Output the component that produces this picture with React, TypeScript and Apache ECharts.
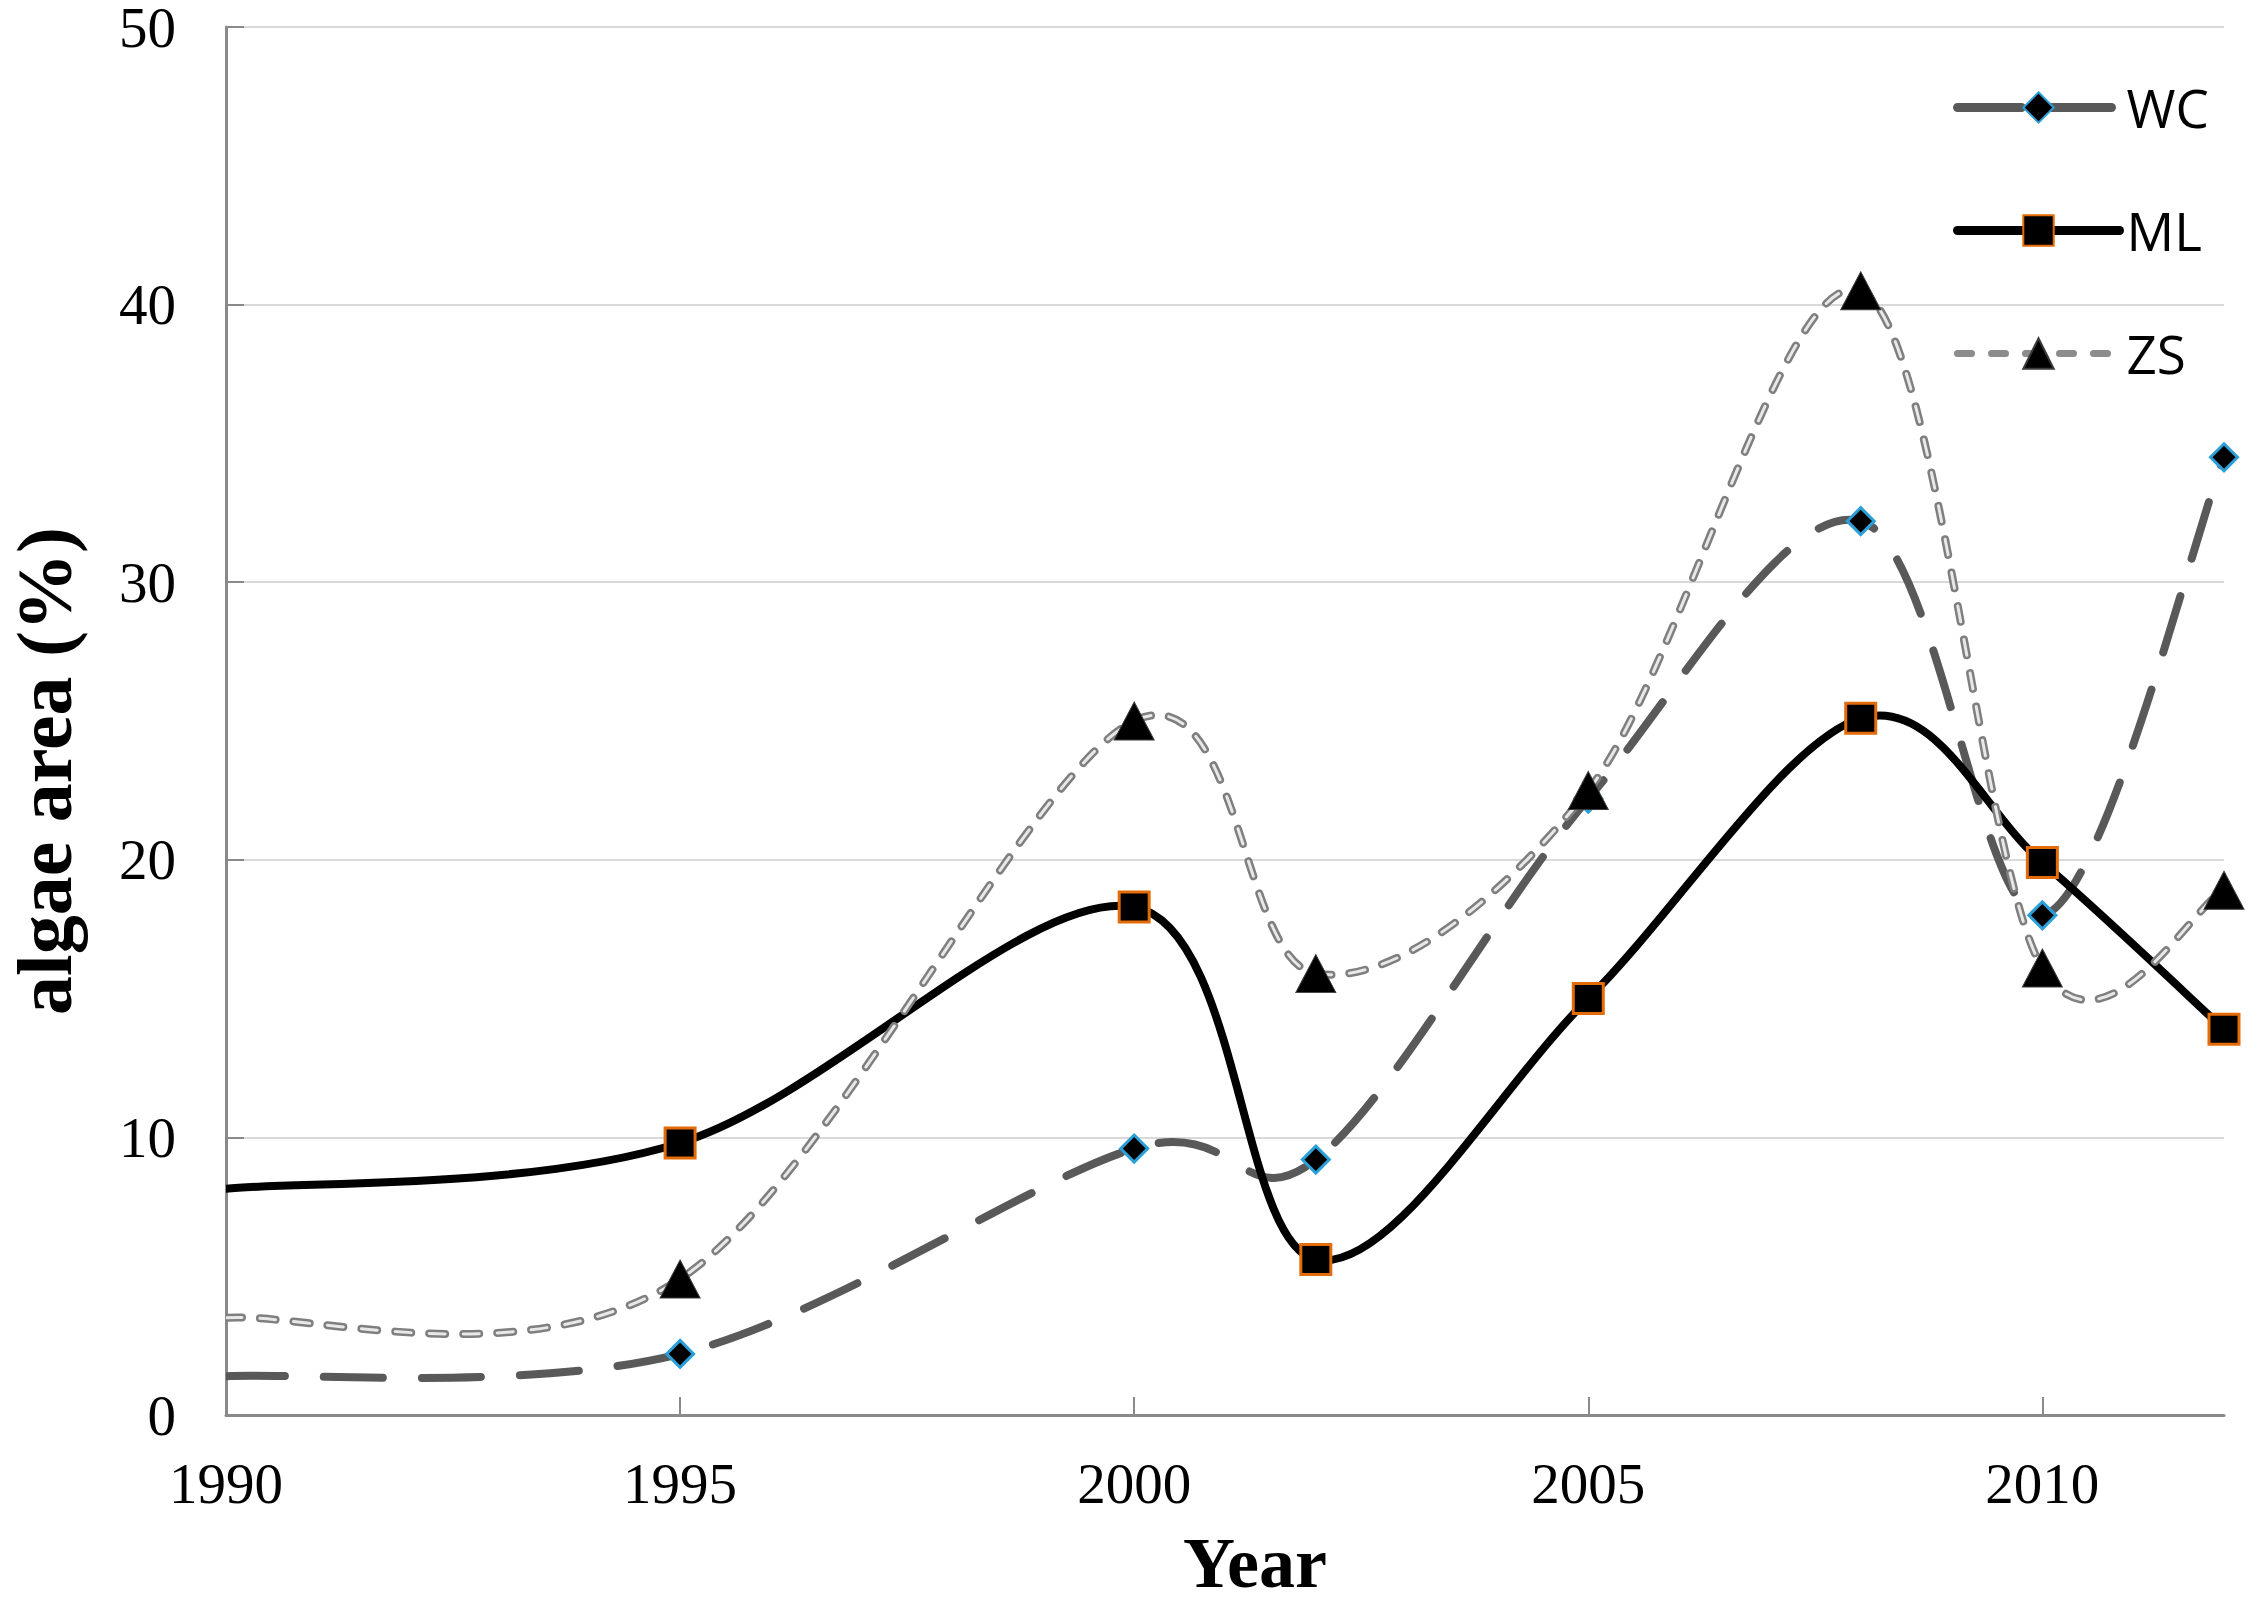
import React, { useEffect, useRef } from "react";
import * as echarts from "echarts";

const years = [1990, 1995, 2000, 2002, 2005, 2008, 2010, 2012];
const wcValues = [1.4, 2.2, 9.6, 9.2, 22.2, 32.2, 18.0, 34.5];
const mlValues = [8.15, 9.8, 18.3, 5.6, 15.0, 25.1, 19.9, 13.9];
const zsValues = [3.5, 4.9, 25.0, 15.9, 22.5, 40.5, 16.1, 18.9];
const xTickValues = [1990, 1995, 2000, 2005, 2010];
const seriesNames = ["WC", "ML", "ZS"];
const xTitle = "Year";
const yTitle = "algae area (%)";

// Excel-like smoothed curve through points (Catmull-Rom, tension 1/6)
function smoothPath(pts: number[][]): string {
  let d = `M${pts[0][0]},${pts[0][1]}`;
  for (let i = 0; i < pts.length - 1; i++) {
    const p0 = pts[Math.max(i - 1, 0)];
    const p1 = pts[i];
    const p2 = pts[i + 1];
    const p3 = pts[Math.min(i + 2, pts.length - 1)];
    const c1x = p1[0] + (p2[0] - p0[0]) / 6;
    const c1y = p1[1] + (p2[1] - p0[1]) / 6;
    const c2x = p2[0] - (p3[0] - p1[0]) / 6;
    const c2y = p2[1] - (p3[1] - p1[1]) / 6;
    d += ` C${c1x},${c1y} ${c2x},${c2y} ${p2[0]},${p2[1]}`;
  }
  return d;
}

function curveSeries(id: string, values: number[], strokes: any[]) {
  return {
    type: "custom",
    id,
    name: id,
    coordinateSystem: "cartesian2d",
    silent: true,
    clip: true,
    data: years.map((y, i) => [y, values[i]]),
    encode: { x: 0, y: 1 },
    renderItem: (params: any, api: any) => {
      if (params.dataIndex !== 0) return null;
      const pts = years.map((y, i) => api.coord([y, values[i]]));
      const d = smoothPath(pts);
      return {
        type: "group",
        children: strokes.map((s) => ({
          type: "path",
          shape: { pathData: d },
          style: {
            fill: "none",
            stroke: s.stroke,
            lineWidth: s.width,
            lineDash: s.dash,
            lineCap: "round",
            lineJoin: "round",
          },
        })),
      };
    },
  };
}

function markerSeries(name: string, values: number[], symbol: string, size: any, itemStyle: any) {
  return {
    type: "line",
    name,
    data: years.map((y, i) =>
      i === 0 ? { value: [y, values[i]], symbol: "none" } : { value: [y, values[i]] }
    ),
    symbol,
    symbolSize: size,
    showAllSymbol: true,
    lineStyle: { opacity: 0, width: 0 },
    itemStyle,
    emphasis: { disabled: true },
    z: 3,
  };
}

export default function App() {
  const ref = useRef<HTMLDivElement>(null);
  useEffect(() => {
    if (!ref.current) return;
    const chart = echarts.init(ref.current, null, { renderer: "svg" });
    const serif = "'Liberation Serif', 'Times New Roman', serif";
    const axisGray = "#8a8a8a";
    chart.setOption({
      animation: false,
      backgroundColor: "#ffffff",
      grid: { left: 226, right: 36, top: 27, bottom: 192, containLabel: false, outerBoundsMode: "none" },
      xAxis: {
        type: "value",
        min: 1990,
        max: 2012,
        interval: 5,
        name: xTitle,
        nameLocation: "middle",
        nameGap: 112,
        nameTextStyle: { fontFamily: serif, fontWeight: "bold", fontSize: 72, color: "#000", padding: [0, 0, 0, 60] },
        axisLine: { show: true, lineStyle: { color: axisGray, width: 3 } },
        axisTick: { show: true, inside: true, length: 18, customValues: xTickValues, lineStyle: { color: axisGray, width: 2 } },
        axisLabel: {
          customValues: xTickValues,
          margin: 40,
          fontFamily: serif,
          fontSize: 57,
          color: "#000",
          formatter: (v: number) => String(v),
        },
        splitLine: { show: false },
      },
      yAxis: {
        type: "value",
        min: 0,
        max: 50,
        interval: 10,
        name: yTitle,
        nameLocation: "middle",
        nameGap: 148,
        nameTextStyle: {
          fontFamily: serif,
          fontWeight: "bold",
          fontSize: 78,
          lineHeight: 68,
          color: "#000",
          padding: [0, 100, 0, 0],
        },
        axisLine: { show: true, lineStyle: { color: axisGray, width: 3 } },
        axisTick: { show: true, inside: true, length: 18, lineStyle: { color: axisGray, width: 2 } },
        axisLabel: {
          margin: 50,
          fontFamily: serif,
          fontSize: 57,
          lineHeight: 46,
          padding: [8, 0, 0, 0],
          color: "#000",
        },
        splitLine: { show: true, lineStyle: { color: "#d9d9d9", width: 2 } },
      },
      legend: {
        orient: "vertical",
        left: 1948,
        top: 76,
        itemWidth: 162,
        itemHeight: 38,
        itemGap: 70,
        selectedMode: false,
        textStyle: { fontFamily: "'Open Sans', sans-serif", fontSize: 53, color: "#000", padding: [0, 0, 0, 2] },
        data: [
          { name: seriesNames[0], lineStyle: { color: "#595959", width: 9, type: [64, 26], cap: "round", opacity: 1 } },
          { name: seriesNames[1], lineStyle: { color: "#000000", width: 9, type: "solid", cap: "round", opacity: 1 } },
          { name: seriesNames[2], lineStyle: { color: "#8c8c8c", width: 7, type: [14, 20], cap: "round", opacity: 1 } },
        ],
      },
      series: [
        curveSeries("WC-curve", wcValues, [{ stroke: "#595959", width: 8, dash: [59, 39] }]),
        markerSeries(seriesNames[0], wcValues, "diamond", 27, { color: "#000000", borderColor: "#2a9fd8", borderWidth: 3 }),
        curveSeries("ML-curve", mlValues, [{ stroke: "#000000", width: 8, dash: null }]),
        markerSeries(seriesNames[1], mlValues, "rect", 30, { color: "#000000", borderColor: "#e36c09", borderWidth: 3 }),
        curveSeries("ZS-curve", zsValues, [
          { stroke: "#7f7f7f", width: 8, dash: [16, 18] },
          { stroke: "#e8e8e8", width: 3, dash: [16, 18] },
        ]),
        markerSeries(seriesNames[2], zsValues, "triangle", [40, 38], { color: "#000000", borderColor: "#3a3a3a", borderWidth: 1 }),
      ],
    });
    return () => chart.dispose();
  }, []);
  return (
    <div
      ref={ref}
      style={{ position: "absolute", left: 0, top: 0, width: 2260, height: 1607, background: "#fff" }}
    />
  );
}
